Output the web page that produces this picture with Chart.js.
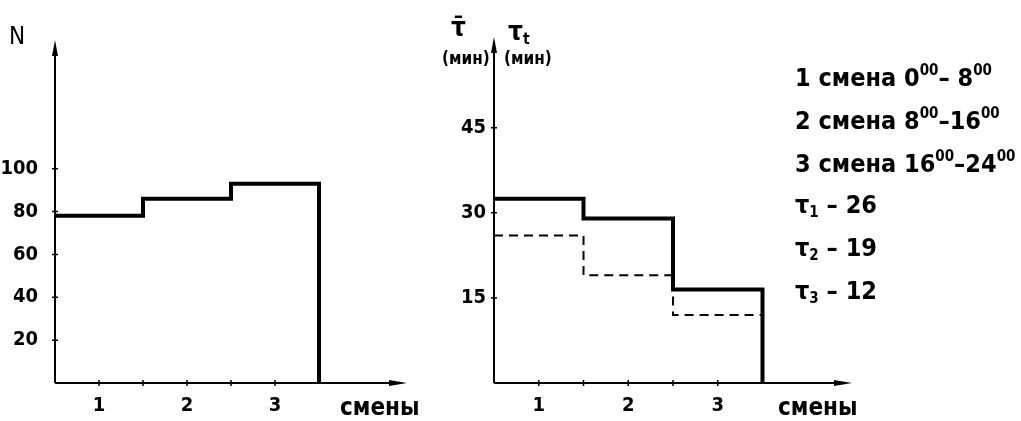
<!DOCTYPE html>
<html>
<head>
<meta charset="utf-8">
<script src="https://cdn.jsdelivr.net/npm/chart.js@4/dist/chart.umd.min.js"></script>
<style>
  html, body { margin: 0; padding: 0; background: #fff; }
  #wrap { position: relative; width: 1021px; height: 421px; overflow: hidden; }
  canvas { position: absolute; top: 0; }
  .lbl { position: absolute; color: #000; font-family: "Liberation Sans Narrow", "DejaVu Sans Condensed", sans-serif; font-weight: bold; white-space: nowrap; line-height: 1; }
  .lbl sup { font-size: 0.6em; vertical-align: 0.75em; }
  .lbl sub { font-size: 0.6em; vertical-align: -0.25em; }
</style>
</head>
<body>
<div id="wrap">
  <canvas id="leftChart" width="430" height="421" style="left:0"></canvas>
  <canvas id="rightChart" width="591" height="421" style="left:430px"></canvas>
</div>
<script>
// shifts (смены) and values
const shifts = [1, 2, 3];
const shiftTicks = [1, 1.5, 2, 2.5, 3];
const vehicleCount = [78, 86, 93];          // N
const meanTime = [32.5, 29, 16.5];          // τ̄, мин (solid)
const tauT = [26, 19, 12];                  // τt, мин (dashed)
const leftYTicks = [20, 40, 60, 80, 100];
const rightYTicks = [15, 30, 45];
const legendLines = [
    '1 смена 0<sup>00</sup>– 8<sup>00</sup>',
    '2 смена 8<sup>00</sup>–16<sup>00</sup>',
    '3 смена 16<sup>00</sup>–24<sup>00</sup>',
    'τ<sub>1</sub> – 26',
    'τ<sub>2</sub> – 19',
    'τ<sub>3</sub> – 12'
];

const FONT = '"Liberation Sans Narrow", "DejaVu Sans Condensed", sans-serif';

// step outline: each shift spans [s-0.5, s+0.5]
function stepPoints(values, dropToZero) {
    const pts = shifts.map((s, i) => ({ x: s - 0.5, y: values[i] }));
    const last = shifts.length - 1;
    pts.push({ x: shifts[last] + 0.5, y: values[last] });
    if (dropToZero) pts.push({ x: shifts[last] + 0.5, y: 0 });
    return pts;
}

const axesPlugin = {
    id: 'axesArrows',
    beforeDatasetsDraw(chart) {
        const { ctx, chartArea: a, scales: { x, y } } = chart;
        ctx.save();
        ctx.strokeStyle = '#000';
        ctx.fillStyle = '#000';
        ctx.lineWidth = 2;
        ctx.beginPath();
        ctx.moveTo(a.left, a.bottom);
        ctx.lineTo(a.left, a.top + 6);
        ctx.moveTo(a.left, a.bottom);
        ctx.lineTo(a.right - 6, a.bottom);
        ctx.stroke();
        // tick marks crossing the axes
        ctx.lineWidth = 1.5;
        ctx.beginPath();
        x.ticks.forEach(t => {
            const px = x.getPixelForValue(t.value);
            ctx.moveTo(px, a.bottom - 3);
            ctx.lineTo(px, a.bottom + 3);
        });
        y.ticks.forEach(t => {
            const py = y.getPixelForValue(t.value);
            ctx.moveTo(a.left - 3, py);
            ctx.lineTo(a.left + 3, py);
        });
        ctx.stroke();
        // arrow heads
        ctx.beginPath();
        ctx.moveTo(a.left, a.top);
        ctx.lineTo(a.left - 3, a.top + 16);
        ctx.lineTo(a.left + 3, a.top + 16);
        ctx.closePath();
        ctx.moveTo(a.right, a.bottom);
        ctx.lineTo(a.right - 18, a.bottom - 3);
        ctx.lineTo(a.right - 18, a.bottom + 3);
        ctx.closePath();
        ctx.fill();
        ctx.restore();
    }
};

function panelOptions(yMax, yTicks, yWidth, yPad, padding) {
    return {
        responsive: false,
        animation: false,
        layout: { padding: padding },
        plugins: { legend: { display: false }, tooltip: { enabled: false } },
        scales: {
            x: {
                type: 'linear',
                min: 0.5,
                max: 4.5,
                grid: { display: false, drawTicks: false },
                border: { display: false },
                afterBuildTicks: scale => { scale.ticks = shiftTicks.map(v => ({ value: v })); },
                afterFit: scale => { scale.height = 38; },
                ticks: {
                    autoSkip: false,
                    maxRotation: 0,
                    padding: 11,
                    color: '#000',
                    font: { family: FONT, size: 20, weight: 'bold' },
                    callback: v => Number.isInteger(v) ? String(v) : ''
                }
            },
            y: {
                min: 0,
                max: yMax,
                grid: { display: false, drawTicks: false },
                border: { display: false },
                afterBuildTicks: scale => { scale.ticks = yTicks.map(v => ({ value: v })); },
                afterFit: scale => { scale.width = yWidth; },
                ticks: {
                    padding: yPad,
                    color: '#000',
                    font: { family: FONT, size: 20, weight: 'bold' }
                }
            }
        }
    };
}

new Chart(document.getElementById('leftChart'), {
    type: 'line',
    data: {
        datasets: [{
            data: stepPoints(vehicleCount, true),
            stepped: 'before',
            borderColor: '#000',
            borderWidth: 4,
            borderJoinStyle: 'miter',
            pointRadius: 0,
            fill: false
        }]
    },
    options: panelOptions(160, leftYTicks, 55, 17, { top: 40, right: 23, left: 0, bottom: 0 }),
    plugins: [axesPlugin]
});

new Chart(document.getElementById('rightChart'), {
    type: 'line',
    data: {
        datasets: [{
            data: stepPoints(meanTime, true),
            stepped: 'before',
            borderColor: '#000',
            borderWidth: 4,
            borderJoinStyle: 'miter',
            pointRadius: 0,
            fill: false
        }, {
            data: stepPoints(tauT, false),
            stepped: 'before',
            borderColor: '#000',
            borderWidth: 2,
            borderDash: [9, 6],
            pointRadius: 0,
            fill: false
        }]
    },
    options: panelOptions(61, rightYTicks, 64, 8, { top: 37, right: 169, left: 0, bottom: 0 }),
    plugins: [axesPlugin]
});

// text labels around the panels
const wrap = document.getElementById('wrap');
function addLabel(html, left, top, size, weight) {
    const d = document.createElement('div');
    d.className = 'lbl';
    d.innerHTML = html;
    d.style.left = left + 'px';
    d.style.top = top + 'px';
    d.style.fontSize = size + 'px';
    if (weight) d.style.fontWeight = weight;
    wrap.appendChild(d);
}
addLabel('N', 9, 24, 24, 'normal');
addLabel('смены', 340, 395, 24);
addLabel('смены', 778, 395, 24);
addLabel('τ&#772;', 451, 14, 26);
addLabel('(мин)', 442, 50, 17);
addLabel('τ<sub>t</sub>', 508, 18, 26);
addLabel('(мин)', 504, 50, 17);
legendLines.forEach((line, i) => addLabel(line, 795, 63 + i * 43, 25));
</script>
</body>
</html>
